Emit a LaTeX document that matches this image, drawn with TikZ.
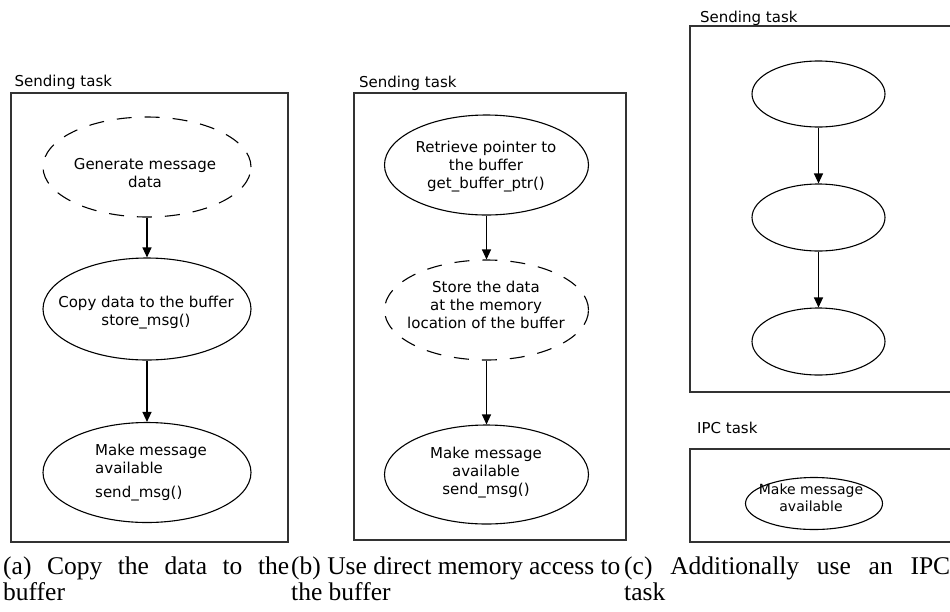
\documentclass[tikz,border=0pt]{standalone}
\usepackage{fontspec}
\setmainfont{DejaVu Sans}
\newfontfamily\capfont{Liberation Serif}
\usetikzlibrary{arrows.meta,shapes.geometric}

\begin{document}
\begin{tikzpicture}[x=1pt,y=-1pt,
  taskframe/.style={draw=black!80, line width=1.4pt},
  ell/.style={ellipse, draw=black, line width=1.1pt, inner sep=0pt},
  dashell/.style={ell, dash pattern=on 15pt off 13pt},
  lbl/.style={font=\fontsize{15}{18}\selectfont, align=center, inner sep=0pt},
  tasklbl/.style={font=\fontsize{15}{18}\selectfont, anchor=base west, inner sep=0pt},
  flow/.style={line width=1.2pt, -{Triangle[length=10pt,width=9pt]}},
  subcap/.style={font=\capfont\fontsize{25.5}{28}\selectfont, anchor=base west, inner sep=0pt}
]
\clip (0,0) rectangle (950,611);

% ---------- (a) copy the data to the buffer ----------
\node[tasklbl] (ta) at (14.5,86) {Sending task};
\draw[taskframe] (11,93) rectangle (288,542);
\node[dashell, minimum width=208pt, minimum height=100pt] (a1) at (147,167) {};
\node[lbl] (a1t) at (145,173.3) {Generate message\\data};
\node[ell, minimum width=208pt, minimum height=102pt] (a2) at (147,309) {};
\node[lbl] (a2t) at (146,312.3) {Copy data to the buffer\\store\_msg()};
\node[ell, minimum width=208pt, minimum height=100pt] (a3) at (147,472.5) {};
\node[lbl, align=left, anchor=west] (a3t) at (95,472.3) {Make message\\available\\[6pt]send\_msg()};
\draw[flow] (a1) -- (a2);
\draw[flow] (a2) -- (a3);

% ---------- (b) direct memory access ----------
\node[tasklbl] (tb) at (359,87) {Sending task};
\draw[taskframe] (354,93) rectangle (626,540);
\node[ell, minimum width=204pt, minimum height=100pt] (b1) at (486.5,165) {};
\node[lbl] (b1t) at (486,167) {Retrieve pointer to\\the buffer\\get\_buffer\_ptr()};
\node[dashell, minimum width=204pt, minimum height=100pt] (b2) at (486.5,310) {};
\node[lbl] (b2t) at (486,305) {Store the data\\at the memory\\location of the buffer};
\node[ell, minimum width=204pt, minimum height=99pt] (b3) at (486.5,474.5) {};
\node[lbl] (b3t) at (486,473) {Make message\\available\\send\_msg()};
\draw[flow] (b1) -- (b2);
\draw[flow] (b2) -- (b3);

% ---------- (c) additional IPC task ----------
\node[tasklbl] (tc) at (700,22) {Sending task};
\draw[taskframe] (690,26) rectangle (960,392);
\node[ell, minimum width=133pt, minimum height=66pt] (c1) at (818.5,94) {};
\node[ell, minimum width=133pt, minimum height=67pt] (c2) at (818.5,217.5) {};
\node[ell, minimum width=133pt, minimum height=67pt] (c3) at (818.5,341.5) {};
\draw[flow] (c1) -- (c2);
\draw[flow] (c2) -- (c3);

\node[tasklbl] (tipc) at (697,433) {IPC task};
\draw[taskframe] (690,449) rectangle (960,542);
\node[ell, minimum width=137pt, minimum height=52pt] (c4) at (814,503.5) {};
\node[lbl, font=\fontsize{14}{17}\selectfont] (c4t) at (811,498) {Make message\\available};

% ---------- captions ----------
\node[subcap] (capa1) at (3,574) {\makebox[286pt][s]{(a) Copy the data to the}};
\node[subcap] (capa2) at (3,600) {buffer};
\node[subcap] (capb1) at (291,574) {(b) Use direct memory access to};
\node[subcap] (capb2) at (291,600) {the buffer};
\node[subcap] (capc1) at (624,574) {\makebox[326pt][s]{(c) Additionally use an IPC}};
\node[subcap] (capc2) at (624,600) {task};
\end{tikzpicture}
\end{document}
